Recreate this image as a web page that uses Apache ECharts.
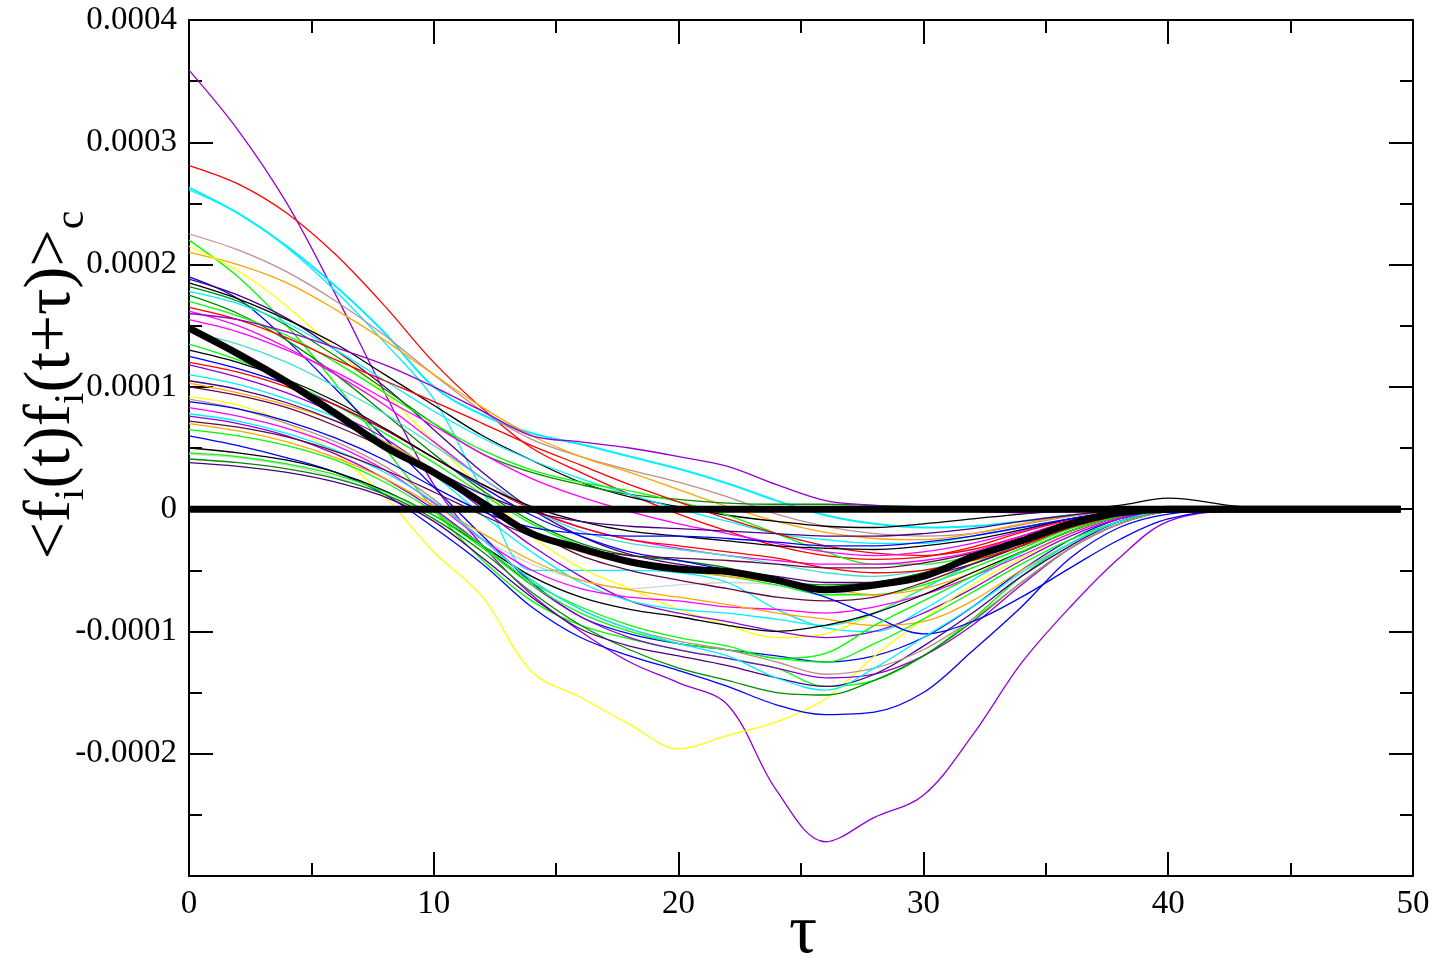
<!DOCTYPE html>
<html>
<head>
<meta charset="utf-8">
<title>Force autocorrelation</title>
<script src="https://cdn.jsdelivr.net/npm/echarts@6/dist/echarts.min.js"></script>
<style>
  html, body { margin: 0; padding: 0; background: #ffffff; }
  #chart { width: 1436px; height: 961px; }
</style>
</head>
<body>
<div id="chart"></div>
<script>
// lag times tau
const tau = [0, 2, 4, 6, 8, 10, 12, 14, 16, 18, 20, 22, 24, 26, 28, 30, 32, 34, 36, 38, 40, 43, 46, 49.5];

// connected correlation <f_i(t) f_i(t+tau)>_c of individual particles, in units of 1e-4
const violetDeep = [3.59, 3.1, 2.5, 1.75, 0.95, 0.2, -0.3, -0.7, -1.0, -1.25, -1.42, -1.6, -2.3, -2.72, -2.52, -2.34, -1.85, -1.26, -0.8, -0.4, -0.1, -0.01, 0, 0];
const red1 = [2.81, 2.66, 2.42, 2.08, 1.66, 1.2, 0.82, 0.5, 0.3, 0.12, -0.04, -0.18, -0.3, -0.38, -0.41, -0.39, -0.31, -0.19, -0.09, -0.03, 0, 0, 0, 0];
const cyan1 = [2.63, 2.42, 2.15, 1.82, 1.44, 1.0, 0.77, 0.62, 0.53, 0.43, 0.33, 0.21, 0.07, -0.05, -0.12, -0.15, -0.14, -0.1, -0.05, -0.02, 0, 0, 0, 0];
const cyan2 = [2.61, 2.42, 2.14, 1.78, 1.36, 0.9, 0.15, -0.5, -0.5, -0.5, -0.52, -0.6, -0.82, -0.97, -1.0, -0.82, -0.58, -0.36, -0.18, -0.06, 0, 0, 0, 0];
const brown1 = [2.25, 2.12, 1.94, 1.7, 1.42, 1.1, 0.8, 0.57, 0.43, 0.32, 0.22, 0.1, -0.04, -0.14, -0.2, -0.22, -0.2, -0.13, -0.06, -0.02, 0, 0, 0, 0];
const greenSteep = [2.2, 1.9, 1.5, 1.02, 0.5, 0.0, -0.42, -0.75, -0.95, -1.06, -1.15, -1.22, -1.3, -1.45, -1.4, -1.2, -0.9, -0.55, -0.28, -0.1, -0.02, 0, 0, 0];
const orange1 = [2.1, 2.0, 1.85, 1.63, 1.38, 1.1, 0.83, 0.6, 0.43, 0.3, 0.16, 0.02, -0.1, -0.19, -0.24, -0.25, -0.2, -0.12, -0.05, -0.01, 0, 0, 0, 0];
const yellow1 = [2.15, 1.95, 1.66, 1.3, 0.95, 0.55, 0.16, -0.22, -0.48, -0.65, -0.82, -0.95, -1.05, -1.02, -0.85, -0.64, -0.44, -0.26, -0.12, -0.04, 0, 0, 0, 0];
const blue1 = [1.9, 1.72, 1.38, 0.98, 0.58, 0.18, -0.22, -0.6, -0.88, -1.02, -1.1, -1.15, -1.2, -1.25, -1.2, -1.05, -0.8, -0.5, -0.25, -0.08, -0.01, 0, 0, 0];
const indigo1 = [1.88, 1.75, 1.56, 1.3, 1.0, 0.65, 0.3, 0.0, -0.22, -0.37, -0.45, -0.5, -0.55, -0.6, -0.6, -0.55, -0.45, -0.3, -0.15, -0.05, 0, 0, 0, 0];
const black1 = [1.85, 1.72, 1.55, 1.35, 1.1, 0.85, 0.6, 0.4, 0.22, 0.1, 0.02, -0.05, -0.1, -0.14, -0.15, -0.12, -0.08, -0.04, -0.01, 0.03, 0.09, 0.02, 0, 0];
const green2 = [1.82, 1.7, 1.5, 1.25, 0.98, 0.7, 0.45, 0.3, 0.2, 0.12, 0.08, 0.05, 0.04, 0.04, 0.03, 0.02, 0.0, -0.02, -0.02, -0.01, 0, 0, 0, 0];
const cyan3 = [1.78, 1.68, 1.52, 1.3, 1.05, 0.8, 0.58, 0.4, 0.25, 0.12, 0.0, -0.1, -0.2, -0.25, -0.28, -0.28, -0.22, -0.15, -0.08, -0.02, 0, 0, 0, 0];
const green4a = [1.75, 1.6, 1.38, 1.1, 0.78, 0.45, 0.15, -0.1, -0.28, -0.38, -0.42, -0.48, -0.58, -0.62, -0.6, -0.52, -0.4, -0.28, -0.15, -0.05, 0, 0, 0, 0];
const green3 = [1.7, 1.58, 1.42, 1.2, 0.95, 0.7, 0.48, 0.32, 0.22, 0.15, 0.06, -0.05, -0.2, -0.35, -0.45, -0.45, -0.38, -0.25, -0.12, -0.04, 0, 0, 0, 0];
const red2 = [1.65, 1.55, 1.4, 1.22, 1.05, 0.88, 0.7, 0.52, 0.36, 0.2, 0.06, -0.08, -0.2, -0.3, -0.36, -0.38, -0.33, -0.22, -0.1, -0.03, 0, 0, 0, 0];
const magenta1 = [1.62, 1.5, 1.32, 1.1, 0.85, 0.55, 0.25, 0.0, -0.15, -0.25, -0.32, -0.38, -0.42, -0.45, -0.45, -0.42, -0.35, -0.22, -0.1, -0.03, 0, 0, 0, 0];
const violetUpper = [1.6, 1.55, 1.45, 1.32, 1.18, 1.0, 0.8, 0.6, 0.55, 0.5, 0.43, 0.35, 0.2, 0.07, 0.03, 0.0, -0.02, -0.03, -0.02, -0.01, 0, 0, 0, 0];
const green5 = [1.35, 1.22, 1.05, 0.85, 0.62, 0.38, 0.12, -0.12, -0.3, -0.42, -0.5, -0.55, -0.62, -0.7, -0.7, -0.62, -0.48, -0.32, -0.16, -0.05, 0, 0, 0, 0];
const violet3 = [1.18, 1.08, 0.95, 0.78, 0.58, 0.3, 0.0, -0.3, -0.55, -0.75, -0.85, -0.92, -1.0, -1.05, -1.0, -0.85, -0.65, -0.42, -0.22, -0.08, -0.01, 0, 0, 0];
const cyan4 = [1.1, 1.02, 0.9, 0.75, 0.55, 0.28, -0.05, -0.35, -0.6, -0.75, -0.82, -0.85, -0.9, -0.95, -0.85, -0.65, -0.45, -0.28, -0.14, -0.05, 0, 0, 0, 0];
const orange2 = [1.03, 0.95, 0.85, 0.72, 0.55, 0.32, 0.05, -0.2, -0.35, -0.45, -0.5, -0.55, -0.6, -0.65, -0.7, -0.65, -0.52, -0.35, -0.18, -0.06, 0, 0, 0, 0];
const yellowDeep = [0.92, 0.85, 0.7, 0.45, 0.1, -0.35, -0.72, -1.33, -1.54, -1.76, -1.96, -1.85, -1.74, -1.55, -1.2, -0.9, -0.62, -0.4, -0.2, -0.06, 0, 0, 0, 0];
const magenta2 = [0.83, 0.76, 0.66, 0.52, 0.32, 0.05, -0.25, -0.5, -0.65, -0.72, -0.75, -0.8, -0.82, -0.85, -0.8, -0.7, -0.55, -0.38, -0.2, -0.07, 0, 0, 0, 0];
const violet4 = [0.76, 0.7, 0.6, 0.45, 0.25, 0.0, -0.3, -0.62, -0.88, -1.05, -1.15, -1.22, -1.3, -1.38, -1.35, -1.2, -0.95, -0.62, -0.32, -0.12, -0.02, 0, 0, 0];
const orange3 = [0.7, 0.64, 0.55, 0.42, 0.25, 0.03, -0.2, -0.42, -0.58, -0.66, -0.72, -0.78, -0.85, -0.9, -0.95, -0.92, -0.75, -0.5, -0.28, -0.1, -0.01, 0, 0, 0];
const blueDeep = [0.6, 0.52, 0.42, 0.3, 0.12, -0.15, -0.45, -0.8, -1.05, -1.2, -1.32, -1.45, -1.6, -1.68, -1.66, -1.5, -1.16, -0.8, -0.4, -0.15, -0.04, 0, 0, 0];
const black2 = [0.5, 0.46, 0.4, 0.3, 0.15, -0.05, -0.3, -0.55, -0.72, -0.82, -0.88, -0.95, -1.0, -0.95, -0.85, -0.7, -0.52, -0.35, -0.18, -0.06, 0, 0, 0, 0];
const green6 = [0.46, 0.43, 0.37, 0.28, 0.14, -0.05, -0.32, -0.62, -0.85, -1.0, -1.1, -1.15, -1.22, -1.25, -1.1, -0.9, -0.68, -0.45, -0.25, -0.1, -0.02, 0, 0, 0];
const green4b = [0.41, 0.38, 0.33, 0.25, 0.12, -0.08, -0.35, -0.68, -0.95, -1.15, -1.3, -1.4, -1.5, -1.52, -1.4, -1.2, -0.92, -0.6, -0.32, -0.12, -0.02, 0, 0, 0];
const indigo2 = [0.38, 0.35, 0.3, 0.22, 0.1, -0.1, -0.4, -0.72, -0.98, -1.12, -1.2, -1.28, -1.38, -1.45, -1.35, -1.12, -0.85, -0.55, -0.3, -0.1, -0.01, 0, 0, 0];
const brown2 = [0.9, 0.82, 0.7, 0.55, 0.35, 0.08, -0.25, -0.58, -0.82, -0.98, -1.08, -1.15, -1.25, -1.35, -1.3, -1.15, -0.9, -0.6, -0.32, -0.12, -0.02, 0, 0, 0];
const grey1 = [0.45, 0.42, 0.36, 0.26, 0.12, -0.05, -0.25, -0.45, -0.58, -0.65, -0.62, -0.6, -0.62, -0.68, -0.7, -0.62, -0.48, -0.32, -0.16, -0.05, 0, 0, 0, 0];
const maroon1 = [1.0, 0.93, 0.83, 0.68, 0.5, 0.28, 0.05, -0.18, -0.38, -0.5, -0.58, -0.65, -0.72, -0.75, -0.72, -0.6, -0.45, -0.3, -0.15, -0.05, 0, 0, 0, 0];
const blueMid = [1.25, 1.15, 1.02, 0.85, 0.65, 0.42, 0.18, -0.05, -0.22, -0.35, -0.42, -0.5, -0.6, -0.72, -0.88, -1.02, -0.92, -0.72, -0.48, -0.25, -0.08, 0, 0, 0];
const turquoise1 = [1.45, 1.35, 1.2, 1.0, 0.78, 0.52, 0.25, 0.0, -0.18, -0.28, -0.33, -0.38, -0.45, -0.52, -0.55, -0.5, -0.4, -0.27, -0.13, -0.04, 0, 0, 0, 0];
const red3 = [1.2, 1.12, 1.0, 0.85, 0.65, 0.42, 0.2, 0.0, -0.15, -0.25, -0.3, -0.35, -0.4, -0.48, -0.52, -0.5, -0.42, -0.3, -0.15, -0.05, 0, 0, 0, 0];
const greenV = [0.65, 0.6, 0.52, 0.4, 0.22, -0.02, -0.3, -0.6, -0.8, -0.95, -1.05, -1.12, -1.22, -1.18, -0.95, -0.75, -0.55, -0.35, -0.18, -0.06, 0, 0, 0, 0];
const cyan5 = [0.78, 0.72, 0.62, 0.48, 0.3, 0.06, -0.25, -0.58, -0.82, -0.98, -1.1, -1.2, -1.38, -1.48, -1.3, -1.05, -0.8, -0.52, -0.28, -0.1, -0.01, 0, 0, 0];
const magenta3 = [1.55, 1.45, 1.3, 1.12, 0.9, 0.68, 0.45, 0.25, 0.1, -0.02, -0.12, -0.2, -0.28, -0.35, -0.38, -0.35, -0.28, -0.18, -0.08, -0.02, 0, 0, 0, 0];
const black3 = [1.3, 1.2, 1.06, 0.88, 0.66, 0.42, 0.2, 0.02, -0.1, -0.18, -0.22, -0.26, -0.3, -0.32, -0.33, -0.3, -0.25, -0.17, -0.08, -0.02, 0, 0, 0, 0];
const blue2 = [0.88, 0.82, 0.72, 0.58, 0.4, 0.18, -0.02, -0.15, -0.2, -0.22, -0.22, -0.24, -0.27, -0.3, -0.3, -0.27, -0.22, -0.15, -0.08, -0.02, 0, 0, 0, 0];
const indigo3 = [1.05, 0.98, 0.87, 0.72, 0.53, 0.32, 0.12, -0.02, -0.1, -0.14, -0.16, -0.18, -0.2, -0.22, -0.22, -0.2, -0.16, -0.1, -0.05, -0.01, 0, 0, 0, 0];
const maroon2 = [0.72, 0.67, 0.59, 0.47, 0.32, 0.14, -0.05, -0.22, -0.32, -0.38, -0.4, -0.42, -0.45, -0.48, -0.48, -0.44, -0.36, -0.25, -0.12, -0.03, 0, 0, 0, 0];

// average over all particles, and the zero reference line
const meanCurve = [1.48, 1.27, 1.04, 0.78, 0.51, 0.3, 0.05, -0.2, -0.32, -0.43, -0.49, -0.51, -0.58, -0.66, -0.62, -0.55, -0.39, -0.26, -0.12, -0.03, 0, 0, 0, 0];
const zeroLine = [0, 0, 0, 0, 0, 0, 0, 0, 0, 0, 0, 0, 0, 0, 0, 0, 0, 0, 0, 0, 0, 0, 0, 0];

// y tick values (units of 1e-4) and their printed labels
const yTickValues = [-2, -1, 0, 1, 2, 3, 4];
const yTickLabels = ['-0.0002', '-0.0001', '0', '0.0001', '0.0002', '0.0003', '0.0004'];

// Grace palette
const C = {
  black: '#000000', red: '#ff0000', green: '#00ff00', blue: '#0000ff', yellow: '#ffff00',
  brown: '#bc8f8f', grey: '#d3d3d3', violet: '#9400d3', cyan: '#00f0ff', magenta: '#ff00ff',
  orange: '#ffa500', indigo: '#4b0082', maroon: '#670748', turquoise: '#40e0d0', green4: '#008b00'
};

const thinCurves = [
  [grey1, C.grey], [violetDeep, C.violet], [red1, C.red], [cyan1, C.cyan, 2], [cyan2, C.cyan],
  [brown1, C.brown], [greenSteep, C.green], [orange1, C.orange], [yellow1, C.yellow],
  [blue1, C.blue], [indigo1, C.indigo], [black1, C.black], [green2, C.green4], [cyan3, C.cyan],
  [green4a, C.green4], [green3, C.green], [red2, C.red], [magenta1, C.magenta],
  [violetUpper, C.violet], [green5, C.green], [violet3, C.violet], [cyan4, C.cyan],
  [orange2, C.orange], [yellowDeep, C.yellow], [magenta2, C.magenta], [violet4, C.violet],
  [orange3, C.orange], [blueDeep, C.blue], [black2, C.black], [green6, C.green],
  [green4b, C.green4], [indigo2, C.indigo], [brown2, C.brown], [maroon1, C.maroon],
  [blueMid, C.blue], [turquoise1, C.turquoise], [red3, C.red], [greenV, C.green],
  [cyan5, C.cyan], [magenta3, C.magenta], [black3, C.black], [blue2, C.blue],
  [indigo3, C.indigo], [maroon2, C.maroon]
];

const pairs = vals => tau.map((t, i) => [t, vals[i]]);

const series = thinCurves.map(([vals, color, w]) => ({
  type: 'line', data: pairs(vals), symbol: 'none', silent: true, z: 2,
  smooth: 0.35,
  lineStyle: { color: color, width: w || 1.3 }, itemStyle: { color: color }
}));
series.push({
  type: 'line', data: pairs(meanCurve), symbol: 'none', silent: true, z: 3,
  smooth: 0.35,
  lineStyle: { color: '#000', width: 7 }
});
series.push({
  type: 'line', data: pairs(zeroLine), symbol: 'none', silent: true, z: 4,
  lineStyle: { color: '#000', width: 7 }
});

const FONT = '"Liberation Serif", "Times New Roman", serif';
const axisLine = { show: true, onZero: false, lineStyle: { color: '#000', width: 2 } };
const tick = { show: true, inside: true, length: 24, lineStyle: { color: '#000', width: 2 } };
const minor = { show: true, splitNumber: 2, length: 13, lineStyle: { color: '#000', width: 2 } };
const label = { fontFamily: FONT, fontSize: 33, color: '#000' };

function yLabel(v) {
  const i = yTickValues.indexOf(Math.round(v));
  return i < 0 ? '' : yTickLabels[i];
}

const chart = echarts.init(document.getElementById('chart'), null, { renderer: 'canvas' });
chart.setOption({
  animation: false,
  backgroundColor: '#ffffff',
  grid: { left: 189, right: 23, top: 20, bottom: 85, containLabel: false },
  xAxis: [
    { type: 'value', position: 'bottom', min: 0, max: 50, interval: 10,
      axisLine: axisLine, axisTick: tick, minorTick: minor, splitLine: { show: false }, minorSplitLine: { show: false },
      axisLabel: Object.assign({ margin: 12 }, label) },
    { type: 'value', position: 'top', min: 0, max: 50, interval: 10,
      axisLine: axisLine, axisTick: tick, minorTick: minor, splitLine: { show: false },
      axisLabel: { show: false } }
  ],
  yAxis: [
    { type: 'value', position: 'left', min: -3, max: 4, interval: 1,
      axisLine: axisLine, axisTick: tick, minorTick: minor, splitLine: { show: false }, minorSplitLine: { show: false },
      axisLabel: Object.assign({ margin: 12, formatter: yLabel }, label) },
    { type: 'value', position: 'right', min: -3, max: 4, interval: 1,
      axisLine: axisLine, axisTick: tick, minorTick: minor, splitLine: { show: false },
      axisLabel: { show: false } }
  ],
  graphic: [
    {
      type: 'text', x: 52, y: 385, rotation: Math.PI / 2, silent: true,
      style: {
        text: '{m|<f}{s|i}{m|(t)f}{s|i}{m|(t+τ)>}{s|c}',
        align: 'center', verticalAlign: 'middle', fill: '#000',
        rich: {
          m: { fontFamily: FONT, fontSize: 66, lineHeight: 66, verticalAlign: 'top', fill: '#000' },
          s: { fontFamily: FONT, fontSize: 42, lineHeight: 42, padding: [32, 0, 0, 0], verticalAlign: 'top', fill: '#000' }
        }
      }
    },
    {
      type: 'text', x: 803, y: 934, silent: true,
      style: { text: 'τ', font: 'normal 70px ' + FONT, align: 'center', verticalAlign: 'middle', fill: '#000' }
    }
  ],
  series: series
});
</script>
</body>
</html>
